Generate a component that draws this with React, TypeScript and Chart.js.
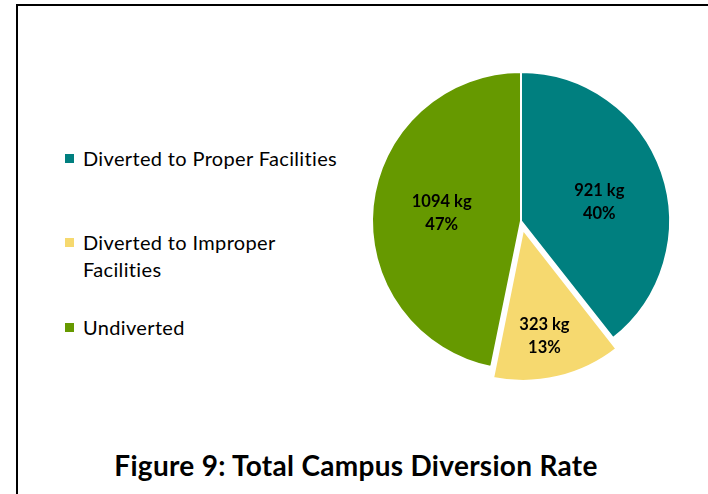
import React, { useEffect, useRef } from 'react';
import { Chart, registerables } from 'chart.js';

Chart.register(...registerables);

// ---- data ----
const categories = ['Diverted to Proper Facilities', 'Diverted to Improper Facilities', 'Undiverted'];
const legendLines = [['Diverted to Proper Facilities'], ['Diverted to Improper', 'Facilities'], ['Undiverted']];
const weightsKg = [921, 323, 1094];
const percentLabels = ['40%', '13%', '47%'];
const sliceColors = ['#007F7F', '#F6D96F', '#669900'];
const titleText = 'Figure 9: Total Campus Diversion Rate';

// ---- style constants ----
// Chart.js 4 translates an arc by offset / 4 pixels
const sliceOffsets = [0, 36, 0];
const labelRadiusFrac = [0.54, 0.73, 0.535];
const labelAngleFrac = [0.54, 0.54, 0.5];
const legendTops = [144.8, 228.8, 313.8];
const FONT = 'Lato, "Open Sans", sans-serif';

const labelPlugin = {
  id: 'sliceLabels',
  afterDatasetsDraw(chart: any) {
    const ctx = chart.ctx;
    const meta = chart.getDatasetMeta(0);
    ctx.save();
    ctx.font = `bold 16.5px ${FONT}`;
    ctx.fillStyle = '#000';
    ctx.textAlign = 'center';
    ctx.textBaseline = 'middle';
    meta.data.forEach((arc: any, i: number) => {
      const p = arc.getProps(['x', 'y', 'startAngle', 'endAngle', 'outerRadius'], true);
      const mid = (p.startAngle + p.endAngle) / 2;
      const a = p.startAngle + (p.endAngle - p.startAngle) * labelAngleFrac[i];
      const off = sliceOffsets[i] / 4;
      const cx = p.x + Math.cos(mid) * off;
      const cy = p.y + Math.sin(mid) * off;
      const r = p.outerRadius * labelRadiusFrac[i];
      const x = cx + Math.cos(a) * r;
      const y = cy + Math.sin(a) * r;
      ctx.fillText(`${weightsKg[i]} kg`, x, y - 11.5);
      ctx.fillText(percentLabels[i], x, y + 11.5);
    });
    ctx.restore();
  },
};

export default function App() {
  const canvasRef = useRef<HTMLCanvasElement | null>(null);

  useEffect(() => {
    document.body.style.margin = '0';
    const canvas = canvasRef.current;
    if (!canvas) return;
    const chart = new Chart(canvas, {
      type: 'pie',
      data: {
        labels: categories,
        datasets: [
          {
            data: weightsKg,
            backgroundColor: sliceColors,
            borderColor: '#ffffff',
            borderWidth: 2,
            offset: sliceOffsets,
          } as any,
        ],
      },
      options: {
        responsive: false,
        animation: false,
        radius: 149,
        layout: { padding: 0 },
        plugins: {
          legend: { display: false },
          tooltip: { enabled: false },
          title: { display: false },
        },
        events: [],
      } as any,
      plugins: [labelPlugin],
    });
    return () => chart.destroy();
  }, []);

  return (
    <div
      style={{
        position: 'fixed',
        left: 0,
        top: 0,
        width: 708,
        height: 494,
        background: '#fff',
        overflow: 'hidden',
        fontFamily: FONT,
      }}
    >
      <div
        style={{
          position: 'absolute',
          left: 16,
          top: 4,
          width: 700,
          height: 500,
          borderLeft: '2px solid #000',
          borderTop: '2px solid #000',
        }}
      />
      {legendLines.map((lines, i) => (
        <div key={i} style={{ position: 'absolute', left: 65, top: legendTops[i] }}>
          <div
            style={{
              position: 'absolute',
              left: 0,
              top: 9.2,
              width: 9,
              height: 9,
              background: sliceColors[i],
            }}
          />
          <div
            style={{
              position: 'absolute',
              left: 18,
              top: 0,
              fontSize: 20,
              letterSpacing: '0.35px',
              lineHeight: '27px',
              whiteSpace: 'nowrap',
              color: '#000',
            }}
          >
            {lines.map((l, j) => (
              <div key={j}>{l}</div>
            ))}
          </div>
        </div>
      ))}
      <canvas
        ref={canvasRef}
        width={320}
        height={320}
        style={{ position: 'absolute', left: 361, top: 61, width: 320, height: 320 }}
      />
      <div
        style={{
          position: 'absolute',
          left: 0,
          top: 450,
          width: 712,
          textAlign: 'center',
          fontSize: 28,
          letterSpacing: '0.3px',
          lineHeight: '30px',
          fontWeight: 'bold',
          color: '#000',
          whiteSpace: 'nowrap',
        }}
      >
        {titleText}
      </div>
    </div>
  );
}
